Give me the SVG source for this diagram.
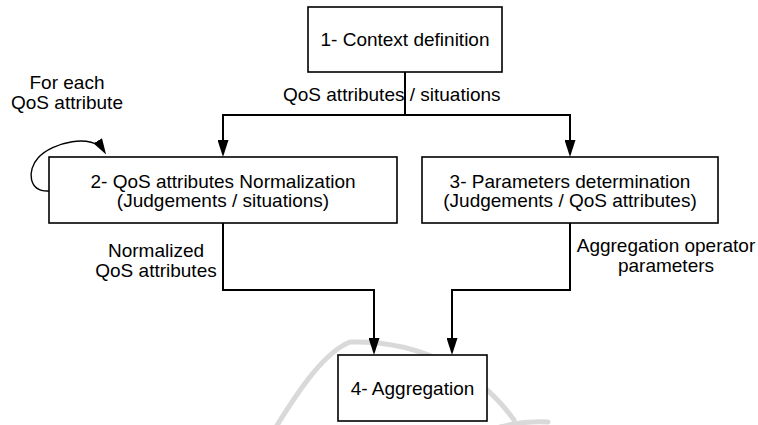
<svg xmlns="http://www.w3.org/2000/svg" width="758" height="425" viewBox="0 0 758 425">
  <style>
    .box { fill: #ffffff; stroke: #000000; stroke-width: 1.6; }
    .txt { font-family: "Liberation Sans", Arial, sans-serif; font-size: 19px; fill: #000000; }
    .mid { text-anchor: middle; }
    .conn { fill: none; stroke: #000000; stroke-width: 2; }
    .loop { fill: none; stroke: #000000; stroke-width: 1.4; }
    .wm { fill: none; stroke: #d9d9d9; stroke-width: 5; stroke-linecap: round; }
  </style>
  <defs>
    <marker id="arrow" markerUnits="userSpaceOnUse" viewBox="0 0 17 11" refX="11" refY="5.5" markerWidth="17" markerHeight="11" orient="auto">
      <path d="M0,0 L17,5.5 L0,11 Z" fill="#000000"/>
    </marker>
    <marker id="arrowS" markerUnits="userSpaceOnUse" viewBox="0 0 16 10" refX="12" refY="5" markerWidth="16" markerHeight="10" orient="auto">
      <path d="M0,0 L16,5 L0,10 Z" fill="#000000"/>
    </marker>
  </defs>

  <g id="watermark">
    <path class="wm" d="M276,427 C300,388 325,352 350,342 C420,340 480,372 514,420"/>
    <path class="wm" d="M500,427 C515,423 530,421 548,422"/>
  </g>

  <g id="connectors">
    <path class="conn" d="M405,72 V115"/>
    <path class="conn" d="M405,115 H223 V151" marker-end="url(#arrow)"/>
    <path class="conn" d="M405,115 H570 V151" marker-end="url(#arrow)"/>
    <path class="conn" d="M223,223 V290 H374 V349" marker-end="url(#arrow)"/>
    <path class="conn" d="M570,223 V290 H452 V349" marker-end="url(#arrow)"/>
    <path class="loop" d="M49,191 C28,192 27,170 38,158 C52,142 93,133 104,151" marker-end="url(#arrowS)"/>
    <text class="txt" x="283" y="101">QoS attributes / situations</text>
    <text class="txt mid" x="67" y="89">For each</text>
    <text class="txt mid" x="67" y="109">QoS attribute</text>
    <text class="txt mid" x="156" y="257">Normalized</text>
    <text class="txt mid" x="156" y="277">QoS attributes</text>
    <text class="txt mid" x="666" y="252">Aggregation operator</text>
    <text class="txt mid" x="666" y="272">parameters</text>
  </g>

  <g id="node1">
    <rect class="box" x="308" y="7" width="194" height="65"/>
    <text class="txt mid" x="405" y="46">1- Context definition</text>
  </g>
  <g id="node2">
    <rect class="box" x="49" y="157" width="348" height="66"/>
    <text class="txt mid" x="223" y="188">2- QoS attributes Normalization</text>
    <text class="txt mid" x="223" y="207">(Judgements / situations)</text>
  </g>
  <g id="node3">
    <rect class="box" x="422" y="157" width="296" height="66"/>
    <text class="txt mid" x="570" y="188">3- Parameters determination</text>
    <text class="txt mid" x="570" y="207">(Judgements / QoS attributes)</text>
  </g>
  <g id="node4">
    <rect class="box" x="338" y="355" width="149" height="66"/>
    <text class="txt mid" x="412.5" y="395">4- Aggregation</text>
  </g>
</svg>
